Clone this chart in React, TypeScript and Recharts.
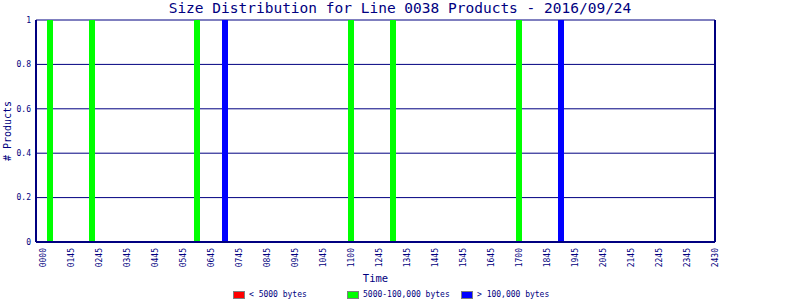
import React from "react"
import { BarChart, Bar, XAxis, YAxis, CartesianGrid, Legend, ReferenceLine } from "recharts"

const timeLabels = [
  "0000", "0145", "0245", "0345", "0445", "0545", "0645", "0745", "0845", "0945",
  "1045", "1100", "1245", "1345", "1445", "1545", "1645", "1700", "1845", "1945",
  "2045", "2145", "2245", "2345", "2430",
]
// 15-minute bins (0..96) that had products, by size class
const smallBins: number[] = []
const mediumBins = [1, 7, 22, 44, 50, 68]
const largeBins = [26, 74]
const yTicks = [0, 0.2, 0.4, 0.6, 0.8, 1]

const NAVY = "#000080"
const FONT = "'DejaVu Sans Mono', monospace"

const series = [
  { key: "small", name: "< 5000 bytes", color: "#ff0000" },
  { key: "medium", name: "5000-100,000 bytes", color: "#00ff00" },
  { key: "large", name: "> 100,000 bytes", color: "#0000ff" },
]

const allBins = [...smallBins, ...mediumBins, ...largeBins].sort((a, b) => a - b)
const data = allBins.map((bin) => ({
  bin,
  small: smallBins.includes(bin) ? 1 : 0,
  medium: mediumBins.includes(bin) ? 1 : 0,
  large: largeBins.includes(bin) ? 1 : 0,
}))

const xTicks = timeLabels.map((_, i) => i * 4)

function TimeTick({ x, y, payload }: any) {
  const label = timeLabels[payload.value / 4] ?? ""
  return (
    <text
      x={x}
      y={y + 6}
      transform={`rotate(-90, ${x}, ${y + 6})`}
      textAnchor="end"
      dy="0.35em"
      fill={NAVY}
      fontSize={8}
      fontFamily={FONT}
    >
      {label}
    </text>
  )
}

function SizeLegend() {
  return (
    <div style={{ display: "flex", paddingLeft: 233, height: 11, alignItems: "center" }}>
      {series.map((s) => (
        <div key={s.key} style={{ width: 114, display: "flex", alignItems: "center" }}>
          <span
            style={{
              display: "inline-block",
              width: 10,
              height: 6,
              background: s.color,
              border: "1px solid #808080",
              marginRight: 4,
            }}
          />
          <span style={{ fontFamily: FONT, fontSize: 8, color: NAVY, whiteSpace: "nowrap" }}>{s.name}</span>
        </div>
      ))}
    </div>
  )
}

export default function App() {
  return (
    <div style={{ position: "absolute", left: 0, top: 0, width: 800, height: 300, background: "#fff" }}>
      <BarChart width={800} height={300} data={data} margin={{ top: 20, right: 85, bottom: 0, left: 0 }}>
        <text x={400} y={13} textAnchor="middle" fill={NAVY} fontSize={14.5} fontFamily={FONT}>
          Size Distribution for Line 0038 Products - 2016/09/24
        </text>
        <text
          x={7}
          y={131}
          transform="rotate(-90, 7, 131)"
          textAnchor="middle"
          dy="0.35em"
          fill={NAVY}
          fontSize={10}
          fontFamily={FONT}
        >
          # Products
        </text>
        <CartesianGrid vertical={false} stroke={NAVY} strokeOpacity={1} />
        <XAxis
          dataKey="bin"
          type="number"
          domain={[-1, 96]}
          ticks={xTicks}
          interval={0}
          tick={<TimeTick />}
          tickLine={false}
          tickSize={0}
          tickMargin={0}
          axisLine={{ stroke: NAVY, strokeWidth: 2 }}
          height={47}
          label={{ value: "Time", position: "insideBottom", offset: 7, fill: NAVY, fontSize: 10.5, fontFamily: FONT }}
        />
        <YAxis
          domain={[0, 1]}
          ticks={yTicks}
          width={36}
          tickLine={false}
          tickSize={5}
          tickMargin={0}
          axisLine={{ stroke: NAVY, strokeWidth: 2 }}
          tick={{ fill: NAVY, fontSize: 8, fontFamily: FONT }}
        />
        <ReferenceLine x={96} stroke={NAVY} strokeWidth={2} />
        <Legend verticalAlign="bottom" content={<SizeLegend />} wrapperStyle={{ left: 0, width: 800 }} />
        {series.map((s) => (
          <Bar
            key={s.key}
            dataKey={s.key}
            name={s.name}
            stackId="size"
            fill={s.color}
            barSize={6}
            isAnimationActive={false}
          />
        ))}
      </BarChart>
    </div>
  )
}
